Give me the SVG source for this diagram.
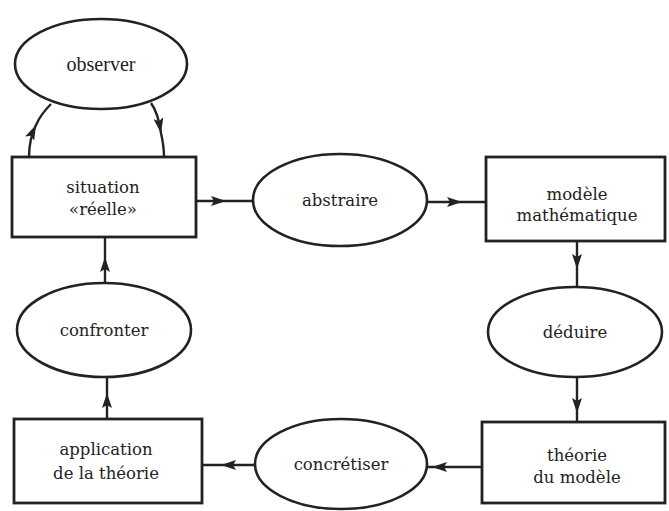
<svg xmlns="http://www.w3.org/2000/svg" width="669" height="511" viewBox="0 0 669 511">
<defs>
<marker id="ah" viewBox="0 0 15 10" refX="15" refY="5" markerUnits="userSpaceOnUse" markerWidth="15" markerHeight="10" orient="auto">
<path d="M0,0 L15,5 L0,10 L3,5 z" fill="#222222"/>
</marker>
<style>
.box{fill:none;stroke:#222222;stroke-width:2.8}
.ell{fill:none;stroke:#222222;stroke-width:2.6}
.t{font-family:"DejaVu Serif","Liberation Serif",serif;font-size:16.5px;fill:#222222;text-anchor:middle}
.t2{font-family:"Liberation Serif","DejaVu Serif",serif;font-size:20px;fill:#222222;text-anchor:middle}
.c{fill:none;stroke:#222222;stroke-width:2.4;marker-mid:url(#ah)}
</style>
</defs>
<rect width="669" height="511" fill="#ffffff"/>
<g id="connectors">
<path class="c" d="M29,157 C29,145 31,135 36,125 C40,116 45,110 51,104"/>
<path class="c" d="M151,103 C156,110 159,118 161,133 C163,142 164,150 164,157"/>
<path class="c" d="M196,201 L226,201 L253,201"/>
<path class="c" d="M427,202 L462,202 L486,202"/>
<path class="c" d="M577,241 L577,269 L577,287"/>
<path class="c" d="M577,377 L577,413 L577,422"/>
<path class="c" d="M482,467 L432,467 L427,467"/>
<path class="c" d="M255,465 L221,465 L202,465"/>
<path class="c" d="M107,419 L107,393 L107,377"/>
<path class="c" d="M105,283 L105,257 L105,237"/>
</g>
<g id="observer">
<ellipse class="ell" cx="101" cy="64" rx="86" ry="45"/>
<text class="t2" x="101" y="71">observer</text>
</g>
<g id="situation">
<rect class="box" x="12" y="157" width="184" height="80"/>
<text class="t" x="103" y="193">situation</text>
<text class="t" x="103" y="215">«réelle»</text>
</g>
<g id="abstraire">
<ellipse class="ell" cx="340" cy="200" rx="87" ry="46"/>
<text class="t" x="340" y="206">abstraire</text>
</g>
<g id="modele">
<rect class="box" x="486" y="157" width="179" height="84"/>
<text class="t" x="577" y="200">modèle</text>
<text class="t" x="577" y="221">mathématique</text>
</g>
<g id="deduire">
<ellipse class="ell" cx="575" cy="332" rx="87" ry="45"/>
<text class="t" x="575" y="338">déduire</text>
</g>
<g id="theorie">
<rect class="box" x="482" y="422" width="183" height="81"/>
<text class="t" x="577" y="461">théorie</text>
<text class="t" x="577" y="483">du modèle</text>
</g>
<g id="concretiser">
<ellipse class="ell" cx="341" cy="464" rx="86" ry="45"/>
<text class="t" x="341" y="470">concrétiser</text>
</g>
<g id="application">
<rect class="box" x="14" y="419" width="188" height="84"/>
<text class="t" x="106" y="455">application</text>
<text class="t" x="106" y="479">de la théorie</text>
</g>
<g id="confronter">
<ellipse class="ell" cx="104" cy="330" rx="87" ry="47"/>
<text class="t" x="104" y="336">confronter</text>
</g>
</svg>
